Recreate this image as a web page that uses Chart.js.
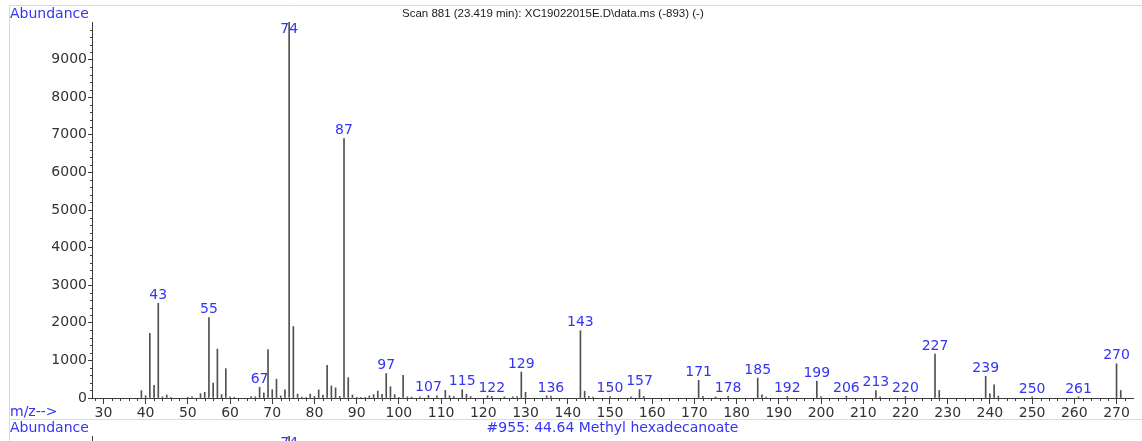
<!DOCTYPE html>
<html>
<head>
<meta charset="utf-8">
<script src="https://cdn.jsdelivr.net/npm/chart.js@4.4.1/dist/chart.umd.min.js"></script>
<style>
  html, body { margin: 0; padding: 0; background: #ffffff; overflow: hidden; }
  #wrap { position: relative; width: 1142px; height: 441px; overflow: hidden; }
  .panel { position: absolute; left: 0; width: 1142px; height: 414px; }
</style>
</head>
<body>
<div id="wrap">
  <div class="panel" style="top:5px"><canvas id="scan" width="1142" height="414"></canvas></div>
  <div class="panel" style="top:419px"><canvas id="lib" width="1142" height="414"></canvas></div>
</div>
<script>
// Scan 881 mass spectrum: m/z values and abundances
const scanMz = [39, 40, 41, 42, 43, 44, 45, 46, 50, 51, 53, 54, 55, 56, 57, 58, 59, 60, 61,
  65, 66, 67, 68, 69, 70, 71, 72, 73, 74, 75, 76, 77, 78, 79, 80, 81, 82, 83, 84, 85, 86, 87, 88,
  89, 90, 91, 92, 93, 94, 95, 96, 97, 98, 99, 100, 101, 102, 103, 105, 107, 109, 111, 112, 113,
  115, 116, 117, 121, 122, 125, 127, 128, 129, 130, 135, 136, 143, 144, 145, 146, 150, 155, 157,
  158, 171, 172, 175, 178, 185, 186, 187, 192, 199, 200, 206, 213, 214, 220, 227, 228, 239, 240,
  241, 242, 250, 261, 270, 271];
const scanAbundance = [195, 60, 1720, 340, 2520, 30, 80, 20, 20, 30, 115, 150, 2140, 400, 1300, 90, 780, 30, 20,
  35, 30, 285, 135, 1290, 220, 500, 55, 215, 10000, 1900, 105, 25, 20, 105, 45, 215, 80, 870, 320, 270, 45, 6900, 540,
  80, 20, 20, 20, 55, 90, 185, 100, 650, 300, 90, 20, 600, 30, 25, 30, 70, 60, 200, 60, 40,
  220, 100, 40, 60, 45, 30, 30, 40, 690, 150, 60, 50, 1790, 180, 45, 25, 40, 30, 225,
  45, 470, 45, 30, 45, 530, 85, 25, 40, 450, 35, 50, 200, 30, 40, 1170, 200, 575, 110,
  350, 50, 30, 30, 910, 200];
const scanLabelled = [43, 55, 67, 74, 87, 97, 107, 115, 122, 129, 136, 143, 150, 157, 171, 178,
  185, 192, 199, 206, 213, 220, 227, 239, 250, 261, 270];

// Library hit #955 (base peak only)
const libMz = [74];
const libAbundance = [10000];
const libLabelled = [74];

// Axis tick labels
const mzTicks = [30, 40, 50, 60, 70, 80, 90, 100, 110, 120, 130, 140, 150, 160, 170, 180, 190,
  200, 210, 220, 230, 240, 250, 260, 270];
const abundanceTicks = [0, 1000, 2000, 3000, 4000, 5000, 6000, 7000, 8000, 9000];

const scanTitle = 'Scan 881 (23.419 min): XC19022015E.D\\data.ms (-893) (-)';
const libTitle = '#955: 44.64 Methyl hexadecanoate';

const BLUE = '#3434f4';
const AXIS = '#3c3c3c';
const LABEL_FONT = "14px 'DejaVu Sans'";

Chart.defaults.font.family = "'DejaVu Sans', 'Liberation Sans', Arial, sans-serif";
Chart.defaults.font.size = 14;
Chart.defaults.color = '#333333';

// green frame, header texts and m/z axis caption
const frame = {
  id: 'frame',
  beforeDraw(chart, args, opts) {
    const ctx = chart.ctx;
    const a = chart.chartArea;
    ctx.save();
    ctx.strokeStyle = '#b4f4b4';
    ctx.lineWidth = 1;
    ctx.beginPath();
    ctx.moveTo(9.5, 420); ctx.lineTo(9.5, 0.5); ctx.lineTo(1142, 0.5);
    ctx.stroke();
    ctx.textBaseline = 'middle';
    ctx.font = LABEL_FONT;
    ctx.fillStyle = BLUE;
    ctx.textAlign = 'left';
    ctx.fillText('Abundance', 10, 9);
    if (opts.caption) ctx.fillText('m/z-->', 10, 407);
    if (opts.centered) {
      ctx.textAlign = 'center';
      ctx.fillText(opts.title, (a.left + a.right) / 2, 9);
    } else {
      ctx.font = "11.5px 'Liberation Sans'";
      ctx.fillStyle = '#1a1a1a';
      ctx.fillText(opts.title, 402, 9);
    }
    ctx.restore();
  }
};

// minor ticks on both axes
const minorTicks = {
  id: 'minorTicks',
  afterDraw(chart) {
    const { ctx, chartArea: a } = chart;
    const x = chart.scales.x, y = chart.scales.y;
    ctx.save();
    ctx.strokeStyle = AXIS;
    ctx.lineWidth = 1;
    ctx.beginPath();
    for (let v = 28; v <= x.max; v += 2) {
      if (v % 10 === 0) continue;
      const px = Math.round(x.getPixelForValue(v)) + 0.5;
      ctx.moveTo(px, a.bottom); ctx.lineTo(px, a.bottom + 3);
    }
    for (let v = 200; v < y.max; v += 200) {
      if (v % 1000 === 0) continue;
      const py = Math.round(y.getPixelForValue(v)) + 0.5;
      ctx.moveTo(a.left - 2, py); ctx.lineTo(a.left, py);
    }
    ctx.stroke();
    ctx.restore();
  }
};

// m/z labels above the labelled peaks
const peakLabels = {
  id: 'peakLabels',
  afterDatasetsDraw(chart, args, opts) {
    const ctx = chart.ctx;
    const meta = chart.getDatasetMeta(0);
    const ds = chart.data.datasets[0].data;
    ctx.save();
    ctx.font = LABEL_FONT;
    ctx.fillStyle = BLUE;
    ctx.textAlign = 'center';
    ctx.textBaseline = 'middle';
    opts.labelled.forEach(m => {
      const i = ds.findIndex(p => p.x === m);
      if (i < 0) return;
      const el = meta.data[i];
      const ty = Math.max(el.y - 8, chart.chartArea.top + 7);
      ctx.fillText(String(m), el.x, ty);
    });
    ctx.restore();
  }
};

function spectrum(id, mz, abundance, labelled, title, centered, caption) {
  return new Chart(document.getElementById(id), {
    type: 'bar',
    data: {
      datasets: [{
        data: mz.map((m, i) => ({ x: m, y: abundance[i] })),
        backgroundColor: '#505050',
        borderWidth: 0,
        barThickness: 1,
        grouped: false
      }]
    },
    options: {
      responsive: false,
      animation: false,
      events: [],
      layout: { padding: { left: 10, top: 17, right: 9, bottom: 0 } },
      plugins: {
        legend: { display: false },
        tooltip: { enabled: false },
        frame: { title, centered, caption },
        peakLabels: { labelled }
      },
      scales: {
        x: {
          type: 'linear',
          min: 27.3,
          max: 273.9,
          offset: false,
          afterFit(s) { s.height = 21; },
          afterBuildTicks(s) { s.ticks = mzTicks.map(v => ({ value: v })); },
          grid: { drawOnChartArea: false, offset: false, tickLength: 6, tickColor: AXIS },
          border: { color: AXIS },
          ticks: { padding: 1, maxRotation: 0, autoSkip: false, color: '#333333', callback: v => String(v) }
        },
        y: {
          min: 0,
          max: 10000,
          afterFit(s) { s.width = 82; },
          afterBuildTicks(s) { s.ticks = abundanceTicks.map(v => ({ value: v })); },
          grid: { drawOnChartArea: false, tickLength: 4, tickColor: AXIS },
          border: { color: AXIS },
          ticks: { padding: 1, color: '#333333', callback: v => String(v) }
        }
      }
    },
    plugins: [frame, minorTicks, peakLabels]
  });
}

spectrum('scan', scanMz, scanAbundance, scanLabelled, scanTitle, false, true);
spectrum('lib', libMz, libAbundance, libLabelled, libTitle, true, false);
</script>
</body>
</html>
